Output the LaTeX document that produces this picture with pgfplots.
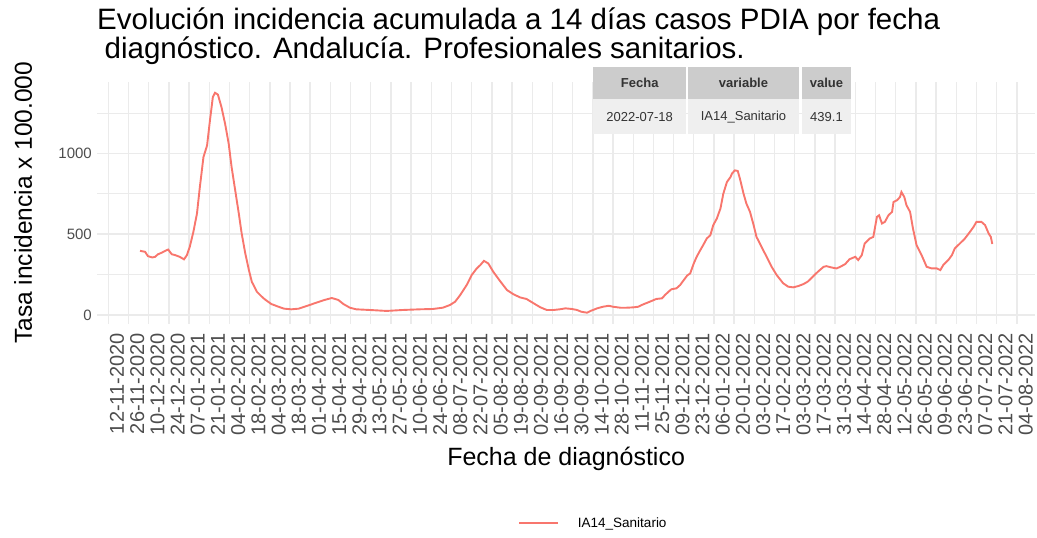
\documentclass[border=0pt]{standalone}
\usepackage{fontspec}
\setmainfont{Liberation Sans}
\usepackage{pgfplots}
\pgfplotsset{compat=1.18}

\definecolor{ggred}{HTML}{F8766D}
\definecolor{gridgray}{HTML}{EBEBEB}
\definecolor{tickgray}{HTML}{4D4D4D}
\definecolor{tiphead}{HTML}{CCCCCC}
\definecolor{tiprow}{HTML}{EFEFEF}
\definecolor{tiptext}{HTML}{333333}

\begin{document}
\begin{tikzpicture}
\useasboundingbox (0pt,0pt) rectangle (1037pt,538pt);

% title, two lines, aligned with the panel
\node[anchor=north west, align=left, inner sep=0pt,
  font=\fontsize{29.5}{26}\selectfont]
  at (97pt,530pt) {Evolución incidencia acumulada a 14 días casos PDIA por fecha\\
  \hspace*{7.5pt}diagnóstico. Andalucía. Profesionales sanitarios.};

\begin{axis}[
  at={(97.4pt,214.3pt)}, anchor=south west,
  width=937.5pt, height=241.9pt, scale only axis,
  xmin=-7.55, xmax=642.55, ymin=-54, ymax=1443,
  axis line style={draw=none}, tick style={draw=none},
  /pgf/number format/assume math mode=true,
  /pgf/number format/1000 sep={},
  xtick={0,14,...,630},
  xticklabels={12-11-2020,26-11-2020,10-12-2020,24-12-2020,
    07-01-2021,21-01-2021,04-02-2021,18-02-2021,04-03-2021,18-03-2021,
    01-04-2021,15-04-2021,29-04-2021,13-05-2021,27-05-2021,10-06-2021,
    24-06-2021,08-07-2021,22-07-2021,05-08-2021,19-08-2021,02-09-2021,
    16-09-2021,30-09-2021,14-10-2021,28-10-2021,11-11-2021,25-11-2021,
    09-12-2021,23-12-2021,
    06-01-2022,20-01-2022,03-02-2022,17-02-2022,03-03-2022,17-03-2022,
    31-03-2022,14-04-2022,28-04-2022,12-05-2022,26-05-2022,09-06-2022,
    23-06-2022,07-07-2022,21-07-2022,04-08-2022},
  ytick={0,500,1000}, minor ytick={250,750,1250},
  grid=both,
  major grid style={gridgray, line width=1.4pt},
  minor grid style={gridgray, line width=0.8pt},
  xticklabel style={font=\fontsize{20}{20}\selectfont, text=tickgray,
    xshift=15.7pt, yshift=-9.3pt, rotate=90, anchor=base east, inner sep=0pt},
  yticklabel style={font=\fontsize{15}{15}\selectfont, text=tickgray,
    anchor=east, inner sep=0pt, xshift=-5.4pt},
  xlabel={Fecha de diagnóstico},
  xlabel style={font=\fontsize{25}{25}\selectfont,
    at={(axis description cs:0.5,-0.588)}, anchor=base, inner sep=0pt},
  ylabel={Tasa incidencia x 100.000},
  ylabel style={font=\fontsize{24.5}{24.5}\selectfont,
    at={(axis description cs:-0.0698,0.5)}, anchor=base, inner sep=0pt},
  legend style={at={(axis description cs:0.4487,-0.824)}, anchor=west,
    draw=none, fill=none, inner sep=0pt, outer sep=0pt,
    nodes={inner sep=0pt, text=black, font=\fontsize{13.5}{13.5}\selectfont}},
  legend image code/.code={\draw[#1] (0pt,0pt) -- (39pt,0pt); \path (58pt,0pt);},
]
\addplot[ggred, line width=1.9pt] coordinates {
(22,397) (25.5,391) (27.5,364) (30.5,356) (32.5,360) (34.5,376) (37,385)
(39.5,397) (41.5,405) (44,376) (46.5,370) (49.5,360) (52.5,344) (54.5,370)
(56.5,422) (59,514) (61.5,628) (63.5,792) (66,977) (68.5,1049) (70.5,1204)
(72.5,1348) (74,1375) (76,1364) (78.5,1286) (81,1183) (83.5,1060) (85.5,916)
(88,772) (90.5,628) (92.5,504) (95,381) (97.5,278) (99.5,206) (103,144)
(106.5,113) (108.5,97) (113,68) (118,51) (122,39) (127,35) (132,39) (136,51)
(141,66) (145.5,80) (150,93) (155,105) (159.5,93) (163,68) (167.5,45) (172,35)
(181,31) (193,25) (204.5,31) (216,35) (225,37) (232,45) (237,62) (240.5,82)
(244,123) (248.5,185) (252,247) (255.5,288) (258,309) (260.5,335) (263.5,319)
(267,267) (272,206) (276.5,154) (281,128) (285.5,109) (290,99) (295,72)
(299.5,48) (304,31) (309,31) (313,35) (317,41) (321.5,37) (325,31) (328,20)
(332,14) (335,27) (339,41) (343,51) (347,57) (350,51) (355,45) (359.5,45)
(364,47) (367.5,51) (371,66) (375.5,82) (380,99) (384,103) (386,123)
(388.5,144) (390.5,159) (394,165) (396.5,185) (399,215) (401.5,245)
(403.5,257) (406,319) (408,360) (410.5,401) (412.5,432) (415,473) (417.5,494)
(419.5,556) (422,597) (424.5,659) (426.5,751) (429,823) (431.5,854)
(432.5,875) (434.5,895) (436.5,891) (438,844) (440.5,751) (442.5,689)
(445,638) (447.5,556) (449.5,483) (453,422) (456.5,360) (460,298) (463.5,247)
(468,196) (471.5,175) (475,171) (478.5,179) (482,191) (485,206) (489,241)
(492,267) (496,298) (498,302) (501.5,294) (505,288) (508,300) (511,315)
(514,345) (518,360) (520,340) (522.5,370) (524.5,442) (528,473) (530.5,483)
(533,607) (534.5,617) (536.5,566) (538.5,576) (541,617) (543.5,638)
(544.5,699) (547,710) (549,730) (550,761) (552,730) (553.5,679) (556,638)
(558,535) (560.5,432) (564,370) (567.5,298) (571,288) (574.5,288) (577,278)
(579,309) (582.5,340) (585,370) (587,412) (590.5,442) (594,473) (597.5,514)
(600,545) (602,576) (605.5,576) (608,556) (610.5,504) (612,483) (613,439.1)
};
\addlegendentry{IA14\_Sanitario}
\end{axis}

% hover table drawn over the panel
\fill[tiphead] (593.3pt,470.7pt) rectangle (686pt,438.7pt);
\fill[tiphead] (688pt,470.7pt) rectangle (799pt,438.7pt);
\fill[tiphead] (802pt,470.7pt) rectangle (851pt,438.7pt);
\fill[tiprow] (593.3pt,438.7pt) rectangle (686pt,404pt);
\fill[tiprow] (688pt,438.7pt) rectangle (799pt,404pt);
\fill[tiprow] (802pt,438.7pt) rectangle (851pt,404pt);
\begin{scope}[every node/.style={text=tiptext, inner sep=0pt}]
\node[font=\bfseries\fontsize{13}{13}\selectfont] at (639.7pt,454.7pt) {Fecha};
\node[font=\bfseries\fontsize{13}{13}\selectfont] at (743.5pt,454.7pt) {variable};
\node[font=\bfseries\fontsize{13}{13}\selectfont] at (826.5pt,454.7pt) {value};
\node[font=\fontsize{13}{13}\selectfont] at (639.7pt,421.3pt) {2022-07-18};
\node[font=\fontsize{13}{13}\selectfont] at (743.5pt,421.3pt) {IA14\_Sanitario};
\node[font=\fontsize{13}{13}\selectfont] at (826.5pt,421.3pt) {439.1};
\end{scope}
\end{tikzpicture}
\end{document}
